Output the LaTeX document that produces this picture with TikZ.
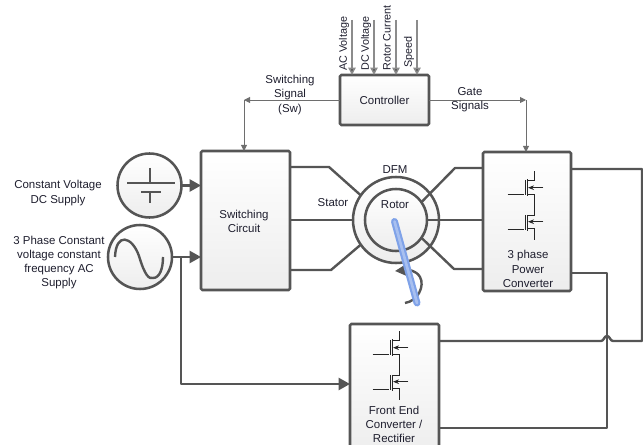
\documentclass[tikz,border=0pt]{standalone}
\usepackage{fontspec}
\setmainfont{Liberation Sans}
\usetikzlibrary{arrows.meta}
\definecolor{ln}{HTML}{555555}
\definecolor{txt}{HTML}{1E1E2E}
\definecolor{shaftdk}{HTML}{7FA2E8}
\definecolor{shaftlt}{HTML}{A8C0F0}
\newcommand{\mosfets}{%
  \draw[fet] (507.7,194.3) -- (524.3,194.3);
  \draw[fet] (525,180) -- (525,195);
  \draw[fet] (527.3,179.5) -- (527.3,196);
  \draw[fet] (527.3,180.7) -- (534,180.7) -- (534,170.7);
  \draw[fet] (527.3,194.3) -- (534,194.3) -- (534,214);
  \draw[fet,-{Stealth[length=4.5pt,width=3.5pt]}] (543.3,187.7) -- (528,187.7);
  \draw[fet] (507.7,229.3) -- (524.3,229.3);
  \draw[fet] (525,215) -- (525,230);
  \draw[fet] (527.3,215) -- (527.3,231);
  \draw[fet] (527.3,216) -- (534,216) -- (534,214);
  \draw[fet] (527.3,228.3) -- (534,228.3) -- (534,240);
  \draw[fet,-{Stealth[length=4.5pt,width=3.5pt]}] (543.3,221.7) -- (528,221.7);
}
\tikzset{
  block/.style={draw=ln,line width=1.9pt,rounded corners=1pt,top color=white,bottom color=black!7,outer sep=0pt,inner sep=0pt},
  disc/.style={circle,draw=ln,line width=1.9pt,top color=white,bottom color=black!7,outer sep=0pt,inner sep=0pt},
  wire/.style={draw=ln,line width=1.8pt,line join=round},
  thin wire/.style={draw=ln!85,line width=0.7pt},
  sense/.style={draw=black!45,line width=1.1pt,-{Triangle[length=5.5pt,width=5.5pt,fill=ln]}},
  big arrow/.style={wire,-{Triangle[length=8.5pt,width=9pt]}},
  small tip/.style={-{Triangle[length=4.5pt,width=4.5pt]}},
  fet/.style={draw=black!85,line width=0.75pt},
  lab/.style={font=\fontsize{8.6}{10.6}\selectfont,text=txt,align=center,inner sep=0pt},
  vlab/.style={font=\fontsize{8.1}{10}\selectfont,text=txt,inner sep=0pt,rotate=90,anchor=west},
}
\begin{document}
\begin{tikzpicture}[x=0.75pt,y=-0.75pt]
\useasboundingbox (0,0) rectangle (643,445);
\clip (0,0) rectangle (643,445);
% blocks
\node[block,minimum width=66.75pt,minimum height=37.5pt] (ctrl) at (384.5,100) {};
\node[block,minimum width=66.75pt,minimum height=104.25pt] (sc) at (245.5,220.5) {};
\node[block,minimum width=66pt,minimum height=104.25pt] (pc) at (527,221.5) {};
\node[block,minimum width=66.75pt,minimum height=97.5pt] (fe) at (394.5,389) {};
% sources
\node[disc,minimum size=48pt] (dc) at (149.5,185.5) {};
\node[disc,minimum size=48pt] (ac) at (140,257) {};
\draw[wire] (127,183) -- (175,183);
\draw[wire] (150,168) -- (150,183);
\draw[wire] (141,192) -- (161,192);
\draw[wire] (150,192) -- (150,203);
\draw[wire] (115,257) .. controls (116,232) and (132,236) .. (139,256)
  .. controls (145,276) and (149,279) .. (153,278) .. controls (160,278) and (163,268) .. (163,257);
% machine
\node[disc,minimum size=64.5pt] (dfm) at (396,220) {};
\node[disc,minimum size=46.5pt] (rotor) at (396,220) {};
% free ends and bends
\coordinate (s1) at (329,167);
\coordinate (s3) at (331,270);
\coordinate (r1) at (455,168);
\coordinate (r3) at (454,269);
\coordinate (outA) at (642,169);
\coordinate (outB) at (642,341);
\coordinate (busX) at (607,273);
\coordinate (busY) at (607,428);
\coordinate (jumpL) at (601,341);
\coordinate (jumpR) at (613,341);
\coordinate (acT) at (181,257);
\coordinate (acB) at (181,384);
\coordinate (swC) at (244,100);
\coordinate (gC) at (526,100);
% stator and rotor lines
\draw[wire] (sc.east |- s1) -- (s1) -- (dfm.145);
\draw[wire] (sc.east |- dfm) -- (dfm.west);
\draw[wire] (sc.east |- s3) -- (s3) -- (dfm.215);
\draw[wire] (pc.west |- r1) -- (r1) -- (rotor.35);
\draw[wire] (rotor.east) -- (pc.west |- rotor);
\draw[wire] (rotor.-35) -- (r3) -- (pc.west |- r3);
% source arrows
\draw[big arrow] (dc.east) -- (sc.west |- dc);
\draw[big arrow] (ac.east) -- (sc.west |- ac);
\draw[big arrow] (acT) -- (acB) -- (fe.west |- acB);
% converter links
\draw[wire] (pc.east |- outA) -- (outA) -- (outB) -- (jumpR)
  .. controls (610,341) and (610,336) .. (607,336)
  .. controls (604,336) and (604,341) .. (jumpL) -- (fe.east |- jumpL);
\draw[wire] (pc.east |- busX) -- (busX) -- (busY) -- (fe.east |- busY);
% control signals
\draw[thin wire,small tip] (ctrl.west) -- (swC);
\draw[thin wire,small tip] (swC) -- (sc.north -| swC);
\draw[thin wire,small tip] (ctrl.east) -- (gC);
\draw[thin wire,small tip] (gC) -- (pc.north -| gC);
\coordinate (t1) at (352,20);
\coordinate (t2) at (374,20);
\coordinate (t3) at (396,20);
\coordinate (t4) at (417,20);
\draw[sense] (t1) -- (ctrl.north -| t1);
\draw[sense] (t2) -- (ctrl.north -| t2);
\draw[sense] (t3) -- (ctrl.north -| t3);
\draw[sense] (t4) -- (ctrl.north -| t4);
% rotation mark and shaft
\coordinate (shA) at (394.5,221.5);
\coordinate (shB) at (417,303);
\coordinate (cuA) at (405,303);
\coordinate (cuB) at (395,271);
\draw[wire,-{Triangle[length=10pt,width=10pt]}] (cuA) .. controls (418,301) and (425,286) .. (420,277) .. controls (416,270) and (408,270) .. (cuB);
\draw[shaftdk,line width=5.2pt,line cap=round] (shA) -- (shB);
\draw[shaftlt,line width=2pt,line cap=round] (shA) -- (shB);
% MOSFETs
\mosfets
\begin{scope}[xshift=-101.25pt,yshift=-120pt]\mosfets\end{scope}
% labels
\node[lab] (lctrl) at (384.5,100) {Controller};
\node[lab] (lsc) at (244,221) {Switching\\Circuit};
\node[lab] (lpc) at (528,269) {3 phase\\Power\\Converter};
\node[lab] (lfe) at (394,424.5) {Front End\\Converter /\\Rectifier};
\node[lab] (ldfm) at (395,170) {DFM};
\node[lab] (lrot) at (395,205) {Rotor};
\node[lab] (lsta) at (333,203) {Stator};
\node[lab] (ldc) at (58,193) {Constant Voltage\\DC Supply};
\node[lab] (lac) at (59,262.5) {3 Phase Constant\\voltage constant\\frequency AC\\Supply};
\node[lab] (lsw) at (290,95) {Switching\\Signal\\(Sw)};
\node[lab] (lg) at (470,100) {Gate\\Signals};
\node[vlab] (l1) at (344,71) {AC Voltage};
\node[vlab] (l2) at (366,71) {DC Voltage};
\node[vlab] (l3) at (387,71) {Rotor Current};
\node[vlab] (l4) at (409,68) {Speed};
\end{tikzpicture}
\end{document}
